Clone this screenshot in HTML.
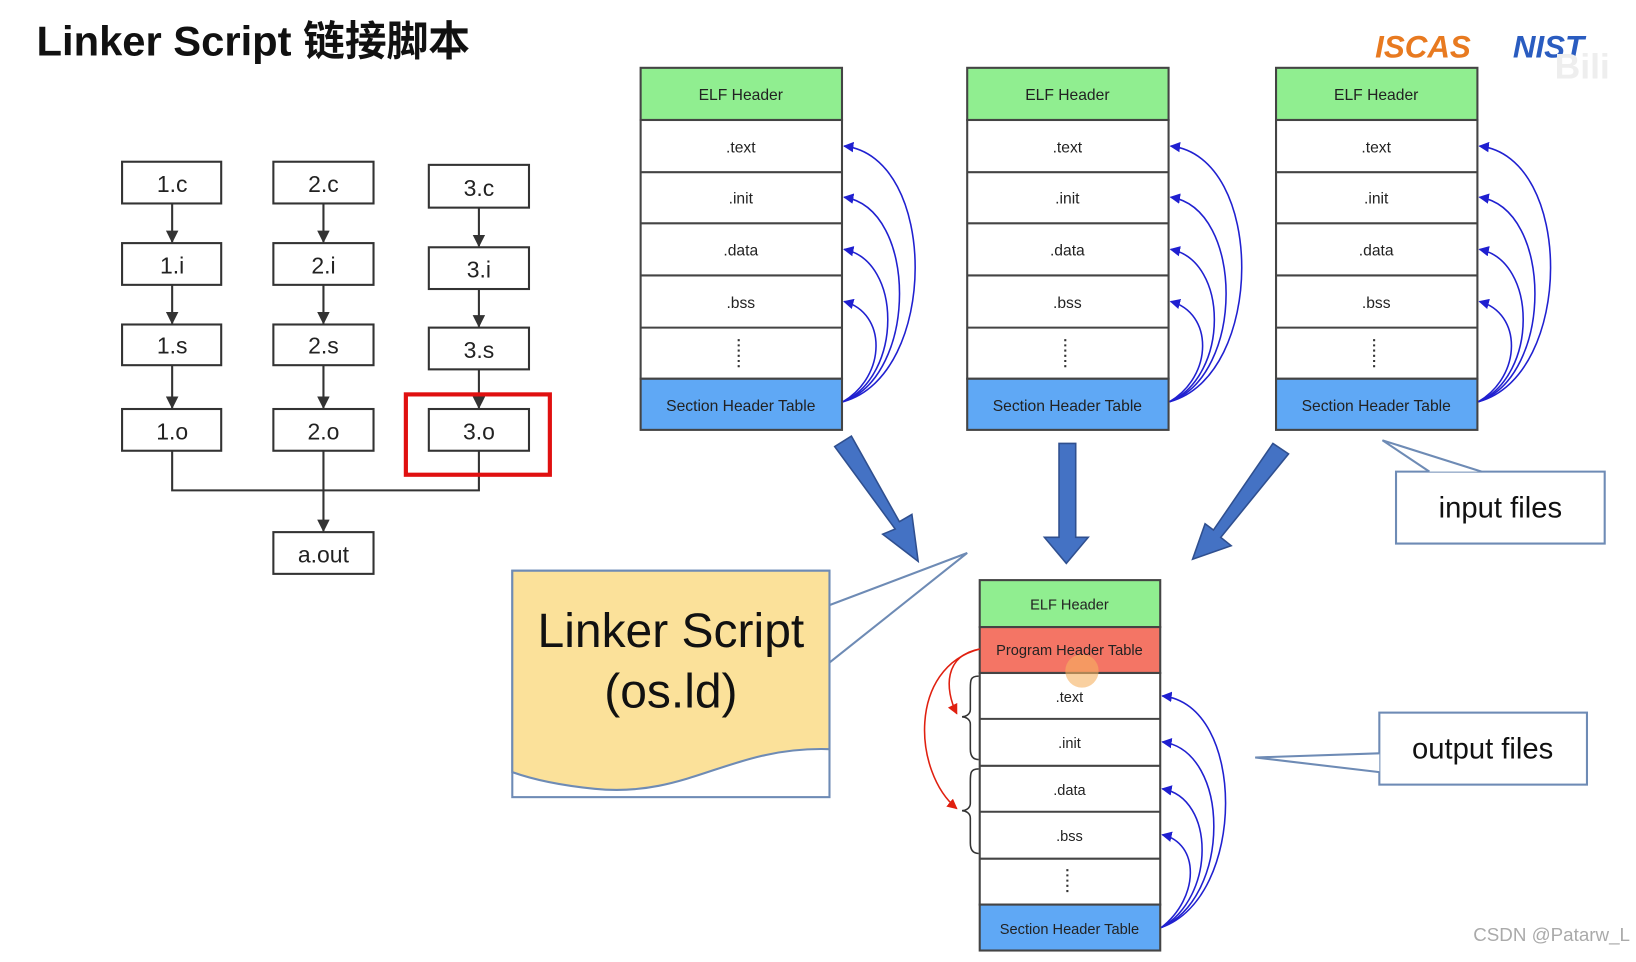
<!DOCTYPE html>
<html><head><meta charset="utf-8"><style>
html,body{margin:0;padding:0;background:#fff;}
svg{display:block}
text{font-family:"Liberation Sans","Noto Sans CJK SC",sans-serif;}
</style></head><body>
<svg width="1636" height="962" viewBox="0 0 1568 922" xmlns="http://www.w3.org/2000/svg">
<defs>
<marker id="ab" markerWidth="10" markerHeight="10" refX="9" refY="5" orient="auto" markerUnits="userSpaceOnUse"><path d="M0,0 L10,5 L0,10 Z" fill="#1f1fd0"/></marker>
<marker id="ar" markerWidth="10" markerHeight="10" refX="9" refY="5" orient="auto" markerUnits="userSpaceOnUse"><path d="M0,0 L10,5 L0,10 Z" fill="#e02010"/></marker>
<marker id="ak" markerWidth="12" markerHeight="12" refX="11" refY="6" orient="auto" markerUnits="userSpaceOnUse"><path d="M0,0 L12,6 L0,12 Z" fill="#333"/></marker>
</defs>
<rect width="1568" height="922" fill="#fff"/>
<text x="35" y="53" font-size="40" font-weight="bold" fill="#111">Linker Script 链接脚本</text>
<text x="1318" y="55" font-size="30" font-weight="bold" font-style="italic" fill="#e87a20">ISCAS</text>
<text x="1450" y="55" font-size="30" font-weight="bold" font-style="italic" fill="#2a5cc0">NIST</text>
<text x="1490" y="75" font-size="34" font-weight="bold" fill="#eee">Bili</text>

<!-- flowchart -->
<g stroke="#333" stroke-width="2" fill="#fff">
<rect x="117" y="155" width="95" height="40"/><rect x="117" y="233" width="95" height="40"/><rect x="117" y="311" width="95" height="39"/><rect x="117" y="392" width="95" height="40"/>
<rect x="262" y="155" width="96" height="40"/><rect x="262" y="233" width="96" height="40"/><rect x="262" y="311" width="96" height="39"/><rect x="262" y="392" width="96" height="40"/>
<rect x="411" y="158" width="96" height="41"/><rect x="411" y="237" width="96" height="40"/><rect x="411" y="314" width="96" height="40"/><rect x="411" y="392" width="96" height="40"/>
<rect x="262" y="510" width="96" height="40"/>
</g>
<g stroke="#333" stroke-width="2" fill="none" marker-end="url(#ak)">
<line x1="165" y1="195" x2="165" y2="232"/><line x1="165" y1="273" x2="165" y2="310"/><line x1="165" y1="350" x2="165" y2="391"/>
<line x1="310" y1="195" x2="310" y2="232"/><line x1="310" y1="273" x2="310" y2="310"/><line x1="310" y1="350" x2="310" y2="391"/>
<line x1="459" y1="199" x2="459" y2="236"/><line x1="459" y1="277" x2="459" y2="313"/><line x1="459" y1="354" x2="459" y2="391"/>
<line x1="310" y1="470" x2="310" y2="509"/>
</g>
<polyline points="165,432 165,470 459,470 459,432" fill="none" stroke="#333" stroke-width="2"/>
<line x1="310" y1="432" x2="310" y2="470" stroke="#333" stroke-width="2"/>
<rect x="389" y="378" width="138" height="77" fill="none" stroke="#e01010" stroke-width="4"/>
<g font-size="22" fill="#222" text-anchor="middle">
<text x="165" y="184">1.c</text><text x="165" y="262">1.i</text><text x="165" y="339">1.s</text><text x="165" y="421">1.o</text>
<text x="310" y="184">2.c</text><text x="310" y="262">2.i</text><text x="310" y="339">2.s</text><text x="310" y="421">2.o</text>
<text x="459" y="188">3.c</text><text x="459" y="266">3.i</text><text x="459" y="343">3.s</text><text x="459" y="421">3.o</text>
<text x="310" y="539">a.out</text>
</g>

<!-- input stacks -->
<g id="stk">
<rect x="614" y="65" width="193" height="50" fill="#90ee90" stroke="#444" stroke-width="2"/>
<rect x="614" y="115" width="193" height="248" fill="#fff" stroke="#444" stroke-width="2"/>
<g stroke="#444" stroke-width="2"><line x1="614" y1="165" x2="807" y2="165"/><line x1="614" y1="214" x2="807" y2="214"/><line x1="614" y1="264" x2="807" y2="264"/><line x1="614" y1="314" x2="807" y2="314"/></g>
<rect x="614" y="363" width="193" height="49" fill="#5fa8f5" stroke="#444" stroke-width="2"/>
<g font-size="15" fill="#222" text-anchor="middle">
<text x="710" y="96">ELF Header</text><text x="710" y="146">.text</text><text x="710" y="195">.init</text><text x="710" y="245">.data</text><text x="710" y="295">.bss</text><text x="710" y="394">Section Header Table</text>
</g>
<line x1="708" y1="325" x2="708" y2="352" stroke="#333" stroke-width="2" stroke-dasharray="2,3"/>
<g fill="none" stroke="#2020d0" stroke-width="1.5" marker-end="url(#ab)">
<path d="M808,385 C900,360 900,150 809,140"/>
<path d="M808,385 C880,360 880,200 809,189"/>
<path d="M808,385 C865,360 865,250 809,239"/>
<path d="M808,385 C850,360 850,300 809,289"/>
</g>
</g>
<use href="#stk" x="313"/>
<use href="#stk" x="609"/>

<!-- big arrows -->
<g fill="#4472c4" stroke="#2f4f8f" stroke-width="1.5">
<polygon points="800,428 816,418 862,500 874,493 880,538 846,512 858,507"/>
<polygon points="1015,425 1031,425 1031,515 1043,515 1022,540 1001,515 1015,515"/>
<polygon points="1220,425 1235,435 1170,515 1180,523 1143,536 1155,502 1163,508"/>
</g>

<!-- input files -->
<polygon points="1338,452 1538,452 1538,521 1338,521" fill="#fff" stroke="#6e8bb5" stroke-width="2"/>
<polyline points="1370,452 1325,422 1420,452" fill="#fff" stroke="#6e8bb5" stroke-width="2"/>
<text x="1438" y="496" font-size="28" text-anchor="middle" fill="#111">input files</text>

<!-- linker script doc -->
<rect x="491" y="547" width="304" height="217" fill="#fff" stroke="#6e8bb5" stroke-width="2"/>
<path d="M491,547 L795,547 L795,718 C700,715 660,765 570,756 C530,752 505,745 491,740 Z" fill="#fbe19a" stroke="#6e8bb5" stroke-width="2"/>
<polyline points="795,580 927,530 795,635" fill="none" stroke="#6e8bb5" stroke-width="2"/>
<text x="643" y="620" font-size="46" text-anchor="middle" fill="#111">Linker Script</text>
<text x="643" y="678" font-size="46" text-anchor="middle" fill="#111">(os.ld)</text>

<!-- output stack -->
<rect x="939" y="556" width="173" height="45" fill="#90ee90" stroke="#444" stroke-width="2"/>
<rect x="939" y="601" width="173" height="44" fill="#f47565" stroke="#444" stroke-width="2"/>
<rect x="939" y="645" width="173" height="222" fill="#fff" stroke="#444" stroke-width="2"/>
<g stroke="#444" stroke-width="2"><line x1="939" y1="689" x2="1112" y2="689"/><line x1="939" y1="734" x2="1112" y2="734"/><line x1="939" y1="778" x2="1112" y2="778"/><line x1="939" y1="823" x2="1112" y2="823"/></g>
<rect x="939" y="867" width="173" height="44" fill="#5fa8f5" stroke="#444" stroke-width="2"/>
<circle cx="1037" cy="643" r="16" fill="#f5b060" opacity="0.6"/>
<g font-size="14" fill="#222" text-anchor="middle">
<text x="1025" y="584">ELF Header</text><text x="1025" y="628">Program Header Table</text><text x="1025" y="673">.text</text><text x="1025" y="717">.init</text><text x="1025" y="762">.data</text><text x="1025" y="806">.bss</text><text x="1025" y="895">Section Header Table</text>
</g>
<line x1="1023" y1="833" x2="1023" y2="857" stroke="#333" stroke-width="2" stroke-dasharray="2,3"/>
<g fill="none" stroke="#2020d0" stroke-width="1.5" marker-end="url(#ab)">
<path d="M1113,889 C1195,860 1195,675 1114,667"/>
<path d="M1113,889 C1180,860 1180,720 1114,711"/>
<path d="M1113,889 C1165,860 1165,765 1114,756"/>
<path d="M1113,889 C1150,860 1150,808 1114,800"/>
</g>
<g fill="none" stroke="#e02010" stroke-width="1.5" marker-end="url(#ar)">
<path d="M939,622 C905,628 905,660 917,684"/>
<path d="M939,622 C870,640 875,740 917,775"/>
</g>
<g fill="none" stroke="#333" stroke-width="1.5">
<path d="M938,648 C930,648 930,652 930,660 L930,680 C930,685 925,687 922,687 C925,687 930,689 930,694 L930,718 C930,724 932,728 938,728"/>
<path d="M938,737 C930,737 930,741 930,749 L930,770 C930,775 925,777 922,777 C925,777 930,779 930,784 L930,808 C930,814 932,818 938,818"/>
</g>

<!-- output files -->
<rect x="1322" y="683" width="199" height="69" fill="#fff" stroke="#6e8bb5" stroke-width="2"/>
<polyline points="1322,722 1203,726 1322,740" fill="#fff" stroke="#6e8bb5" stroke-width="2"/>
<text x="1421" y="727" font-size="28" text-anchor="middle" fill="#111">output files</text>

<text x="1412" y="902" font-size="18" fill="#aaa">CSDN @Patarw_L</text>
</svg>
</body></html>
